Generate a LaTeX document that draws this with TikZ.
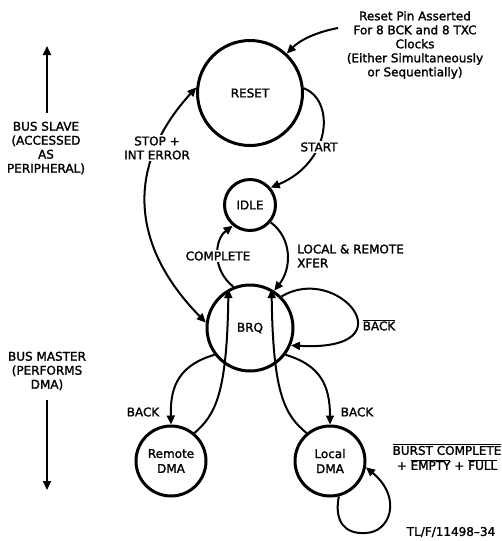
\documentclass[tikz,border=0pt]{standalone}
\usepackage{fontspec}
\setmainfont[FakeBold=1.6,AutoFakeBold=1.6]{DejaVu Sans}
\usetikzlibrary{arrows.meta}
\begin{document}
\begin{tikzpicture}[x=1pt,y=-1pt,
  state/.style={circle,draw,line width=3pt,inner sep=0pt,align=center,font=\fontsize{12}{15}\selectfont\bfseries},
  lbl/.style={align=center,font=\fontsize{12}{14}\selectfont\bfseries,inner sep=1pt},
  conn/.style={line width=2pt,-{Triangle[length=9pt,width=8pt]}},
  both/.style={line width=2pt,{Triangle[length=9pt,width=8pt]}-{Triangle[length=9pt,width=8pt]}}]
\useasboundingbox (0,0) rectangle (502,541);
% states
\node[state,minimum size=105pt] (reset) at (250,93) {RESET};
\node[state,minimum size=51pt] (idle) at (250,205) {IDLE};
\node[state,minimum size=86pt] (brq) at (250,328) {BRQ};
\node[state,minimum size=70pt] (remote) at (171,461) {Remote\\DMA};
\node[state,minimum size=70pt] (local) at (330,461) {Local\\DMA};
% free ends
\coordinate (rp) at (338,28);
\coordinate (lp) at (365,533);
\coordinate (upa) at (47,113);
\coordinate (upb) at (47,46);
\coordinate (dna) at (47,400);
\coordinate (dnb) at (47,490);
% connectors
\draw[conn] (rp) .. controls (312,33) and (298,42) .. (reset.47);
\draw[conn] (reset.5) .. controls (335,100) and (332,162) .. (idle.40);
\draw[both] (reset.174) .. controls (130,160) and (125,240) .. (brq.173);
\draw[conn] (brq.112) .. controls (212,270) and (214,240) .. (idle.230);
\draw[conn] (idle.320) .. controls (292,238) and (292,268) .. (brq.57);
\draw[conn] (brq.45) .. controls (338,262) and (412,352) .. (brq.337);
\draw[conn] (brq.217) .. controls (180,365) and (170,385) .. (remote.north);
\draw[conn] (remote.50) .. controls (215,415) and (227,395) .. (brq.119);
\draw[conn] (local.130) .. controls (285,415) and (273,395) .. (brq.61);
\draw[conn] (brq.323) .. controls (320,365) and (330,385) .. (local.north);
\draw[conn] (local.284) .. controls (334,522) and (345,534) .. (lp) .. controls (390,533) and (403,498) .. (local.350);
\draw[conn] (upa) -- (upb);
\draw[conn] (dna) -- (dnb);
% labels
\node[lbl] (rpl) at (415,45) {Reset Pin Asserted\\For 8 BCK and 8 TXC\\Clocks\\(Either Simultaneously\\or Sequentially)};
\node[lbl] (slave) at (46,148) {BUS SLAVE\\(ACCESSED\\AS\\PERIPHERAL)};
\node[lbl] (master) at (47,371) {BUS MASTER\\(PERFORMS\\DMA)};
\node[lbl,fill=white] (stopl) at (157,148) {STOP +\\INT ERROR};
\node[lbl,fill=white] (startl) at (319,147) {START};
\node[lbl,fill=white] (compl) at (218,256) {COMPLETE};
\node[lbl,anchor=west,align=left] (xferl) at (296,256) {LOCAL \& REMOTE\\XFER};
\node[lbl] (backbar) at (379,325) {$\overline{\mbox{BACK}}$};
\node[lbl] (backl) at (143,412) {BACK};
\node[lbl] (backr) at (357,412) {BACK};
\node[lbl] (burst) at (447,457) {$\overline{\mbox{BURST COMPLETE}}$\\[1pt]+ $\overline{\mbox{EMPTY}}$ + $\overline{\mbox{FULL}}$};
\node[lbl] (tlf) at (451,532) {TL/F/11498--34};
\end{tikzpicture}
\end{document}
